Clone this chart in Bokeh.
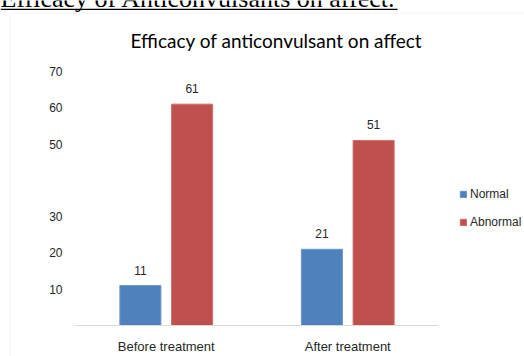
from bokeh.plotting import figure
from bokeh.models import (ColumnDataSource, Range1d, FixedTicker, Label,
                          BoxAnnotation, Legend, LegendItem)
from bokeh.core.properties import value
from bokeh.embed import file_html
from bokeh.resources import INLINE

categories = ["Before treatment", "After treatment"]
normal = [11, 21]
abnormal = [61, 51]
y_ticks = [10, 20, 30, 50, 60, 70]
series_names = ["Normal", "Abnormal"]
heading = "Efficacy of Anticonvulsants on affect."
chart_title = "Efficacy of anticonvulsant on affect"

BLUE = "#4F81BD"
RED = "#C0504D"
FONT = "Liberation Sans"
W, H = 524, 356

# plot area geometry (pixels) -> ranges
PX_LEFT, PX_RIGHT_CAT, PX_ZERO, PX_TOP = 75.0, 438.0, 325.0, 71.0
YMAX = 70
ncat = len(categories)
ux = (PX_RIGHT_CAT - PX_LEFT) / ncat
uy = (PX_ZERO - PX_TOP) / YMAX
x_range = Range1d(-PX_LEFT / ux, (W - PX_LEFT) / ux)
y_range = Range1d(-(H - PX_ZERO) / uy, PX_ZERO / uy)

cat_x = [i + 0.5 for i in range(ncat)]
OFF = 0.1425
BW = 0.226
src = ColumnDataSource(dict(
    xn=[c - OFF for c in cat_x], xa=[c + OFF for c in cat_x],
    normal=normal, abnormal=abnormal,
    normal_lbl=[str(v) for v in normal], abnormal_lbl=[str(v) for v in abnormal],
))

p = figure(width=W, height=H, x_range=x_range, y_range=y_range,
           output_backend="svg", toolbar_location=None,
           min_border=0)
p.background_fill_color = "white"
p.border_fill_color = "white"
p.outline_line_color = None
p.grid.visible = False

r1 = p.vbar(x="xn", top="normal", width=BW, source=src,
            fill_color=BLUE, line_color="#6A95C9")
r2 = p.vbar(x="xa", top="abnormal", width=BW, source=src,
            fill_color=RED, line_color="#CC6E6C")

for xcol, ycol, tcol in (("xn", "normal", "normal_lbl"), ("xa", "abnormal", "abnormal_lbl")):
    p.text(x=xcol, y=ycol, text=tcol, source=src,
           text_align="center", text_baseline="bottom", y_offset=-11,
           text_font=value(FONT), text_font_size="12px", text_color="#262626")

yax = p.yaxis[0]
yax.fixed_location = 0
yax.ticker = FixedTicker(ticks=y_ticks)
yax.axis_line_color = None
yax.major_tick_line_color = None
yax.minor_tick_line_color = None
yax.major_tick_out = 0
yax.major_tick_in = 0
yax.major_label_standoff = 13
yax.major_label_text_font = FONT
yax.major_label_text_font_size = "12px"
yax.major_label_text_color = "#262626"

xax = p.xaxis[0]
xax.fixed_location = 0
xax.bounds = (0, ncat)
xax.ticker = FixedTicker(ticks=cat_x)
xax.major_label_overrides = {c: lab for c, lab in zip(cat_x, categories)}
xax.axis_line_color = "#D9D9D9"
xax.major_tick_line_color = None
xax.minor_tick_line_color = None
xax.major_tick_out = 0
xax.major_tick_in = 0
xax.major_label_standoff = 13
xax.major_label_text_font = FONT
xax.major_label_text_font_size = "13px"
xax.major_label_text_color = "#262626"

# chart border box (screen units, y measured up from the bottom)
p.add_layout(BoxAnnotation(left=9.5, right=700, top=H - 12.5, bottom=-100,
                           left_units="screen", right_units="screen",
                           top_units="screen", bottom_units="screen",
                           fill_color=None, fill_alpha=0, line_color="#D9D9D9", line_width=1))

# heading above the chart, partly cut by the window
p.add_layout(Label(x=0, y=H + 2, x_units="screen", y_units="screen", text=heading,
                   text_font="Liberation Serif", text_font_size="26px",
                   text_baseline="alphabetic", text_color="black"))
p.add_layout(BoxAnnotation(left=0, right=397, top=H - 8.2, bottom=H - 9.6,
                           left_units="screen", right_units="screen",
                           top_units="screen", bottom_units="screen",
                           fill_color="black", fill_alpha=1, line_color=None))

p.add_layout(Label(x=276, y=H - 40, x_units="screen", y_units="screen", text=chart_title,
                   text_font="Lato", text_font_size="19px", text_align="center",
                   text_baseline="middle", text_color="black"))

legend = Legend(items=[LegendItem(label=series_names[0], renderers=[r1]),
                       LegendItem(label=series_names[1], renderers=[r2])],
                location=(459, H - 229), orientation="vertical")
legend.glyph_width = 8
legend.glyph_height = 8
legend.label_standoff = 3
legend.label_height = 14
legend.spacing = 14
legend.padding = 0
legend.margin = 0
legend.border_line_color = None
legend.background_fill_alpha = 0
legend.label_text_font = FONT
legend.label_text_font_size = "12px"
legend.label_text_color = "#262626"
p.add_layout(legend)

open("out.html", "w").write(file_html(p, INLINE))
